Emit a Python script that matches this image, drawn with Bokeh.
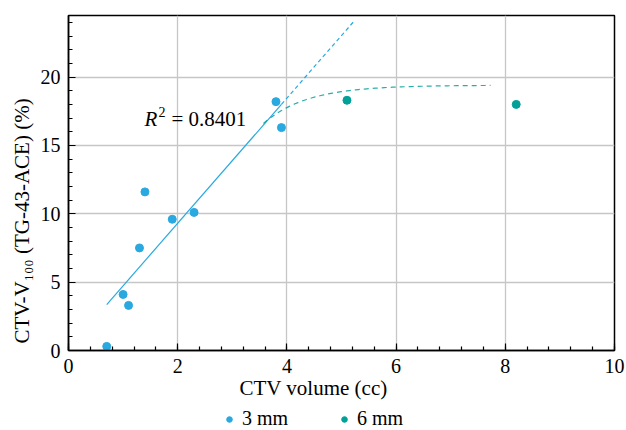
import numpy as np
from bokeh.plotting import figure
from bokeh.layouts import column
from bokeh.models import SingleIntervalTicker, Range1d, Legend, LegendItem, ColumnDataSource, Title
from bokeh.core.properties import value
from bokeh.embed import file_html
from bokeh.resources import INLINE

# ---- data ----
vol_3mm = [0.7, 1.0, 1.1, 1.3, 1.4, 1.9, 2.3, 3.8, 3.9]
v100_3mm = [0.3, 4.1, 3.3, 7.5, 11.6, 9.6, 10.1, 18.2, 16.3]
vol_6mm = [5.1, 8.2]
v100_6mm = [18.3, 18.0]
series_names = ["3 mm", "6 mm"]
x_label = "CTV volume (cc)"
y_label = "CTV-V\u2081\u2080\u2080 (TG-43-ACE) (%)"
r2_text = "0.8401"
fit_extend_to = 5.22          # dashed extrapolation of the linear fit
sat_range = [3.57, 7.73]      # saturation (6 mm) trend curve span
sat_plateau, sat_drop, sat_rate = 19.4, 2.8, 1.25
r2_pos = [1.39, 16.95]

BLUE = "#29A9E0"
TEAL = "#00A199"
FONT = "Liberation Serif"

p = figure(width=626, height=406, x_range=Range1d(0, 10), y_range=Range1d(0, 24.5),
           output_backend="svg", toolbar_location=None,
           min_border_left=68, min_border_right=12, min_border_top=15, min_border_bottom=56)
p.background_fill_color = "white"
p.border_fill_color = "white"
p.outline_line_color = "black"
p.outline_line_width = 1.5

# linear fit on the 3 mm series
slope, intercept = np.polyfit(vol_3mm, v100_3mm, 1)
xs_solid = np.array([min(vol_3mm), max(vol_3mm)])
xs_dash = np.array([max(vol_3mm), fit_extend_to])
p.line(xs_solid, slope * xs_solid + intercept, line_color=BLUE, line_width=1.2)
p.line(xs_dash, slope * xs_dash + intercept, line_color=BLUE, line_width=1.2, line_dash="4 3")

# saturation trend curve
xc = np.linspace(sat_range[0], sat_range[1], 80)
yc = sat_plateau - sat_drop * np.exp(-sat_rate * (xc - sat_range[0]))
p.line(xc, yc, line_color=TEAL, line_width=1.2, line_dash="5 4", line_alpha=0.85)

p.scatter(vol_3mm, v100_3mm, size=8, fill_color=BLUE, line_color=BLUE)
p.scatter(vol_6mm, v100_6mm, size=8, fill_color=TEAL, line_color=TEAL)

# R^2 annotation
src = ColumnDataSource(dict(x=[r2_pos[0]], y=[r2_pos[1]]))
p.text(x="x", y="y", text=value("R"), source=src, text_font=value(FONT), text_font_size="21px",
       text_font_style="italic", text_baseline="alphabetic", text_color="black")
p.text(x="x", y="y", text=value("2"), source=src, text_font=value(FONT), text_font_size="14px",
       text_baseline="alphabetic", x_offset=14, y_offset=-7, text_color="black")
p.text(x="x", y="y", text=value("= " + r2_text), source=src, text_font=value(FONT), text_font_size="21px",
       text_baseline="alphabetic", x_offset=27, text_color="black")

# axes
p.xaxis.ticker = SingleIntervalTicker(interval=2, num_minor_ticks=5)
p.yaxis.ticker = SingleIntervalTicker(interval=5, num_minor_ticks=5)
for ax in (p.xaxis, p.yaxis):
    ax.axis_line_color = "black"
    ax.axis_line_width = 1.5
    ax.major_tick_in = 7
    ax.major_tick_out = 0
    ax.minor_tick_in = 4
    ax.minor_tick_out = 0
    ax.major_tick_line_color = "black"
    ax.minor_tick_line_color = "black"
    ax.major_tick_line_width = 1.2
    ax.minor_tick_line_width = 1.2
    ax.major_label_text_font = FONT
    ax.major_label_text_font_size = "20px"
    ax.major_label_text_color = "black"
p.xaxis.major_label_standoff = 8
p.yaxis.major_label_standoff = 8

# axis titles (placed as titles so they can sit where the reference has them)
xt = Title(text=x_label, align="left", offset=171, standoff=1, vertical_align="top",
           text_font=FONT, text_font_size="21px", text_font_style="normal", text_color="black")
p.add_layout(xt, "below")
yt = Title(text=y_label, align="left", offset=7, standoff=6, vertical_align="middle",
           text_font=FONT, text_font_size="21px", text_font_style="normal", text_color="black")
p.add_layout(yt, "left")

p.xgrid.ticker = p.xaxis.ticker
p.ygrid.ticker = p.yaxis.ticker
p.grid.grid_line_color = "#c6c6c6"
p.grid.grid_line_width = 1.3

# legend strip below the chart (its own renderers sit outside the visible range)
pl = figure(width=626, height=24, x_range=Range1d(-3, -2), y_range=Range1d(-3, -2),
            output_backend="svg", toolbar_location=None,
            x_axis_location=None, y_axis_location=None, min_border=0)
pl.outline_line_color = None
pl.grid.visible = False
l1 = pl.scatter(vol_3mm, v100_3mm, size=8, fill_color=BLUE, line_color=BLUE)
l2 = pl.scatter(vol_6mm, v100_6mm, size=8, fill_color=TEAL, line_color=TEAL)
legend = Legend(items=[LegendItem(label=series_names[0], renderers=[l1]),
                       LegendItem(label=series_names[1], renderers=[l2])],
                orientation="horizontal", location=(154, 0),
                padding=0, margin=0, spacing=0, label_standoff=6, label_width=95,
                glyph_width=14, glyph_height=14, label_height=18,
                label_text_font=FONT, label_text_font_size="20px", label_text_color="black",
                border_line_color=None, background_fill_alpha=0)
pl.add_layout(legend, "center")

open("out.html", "w").write(file_html(column(p, pl), INLINE))
